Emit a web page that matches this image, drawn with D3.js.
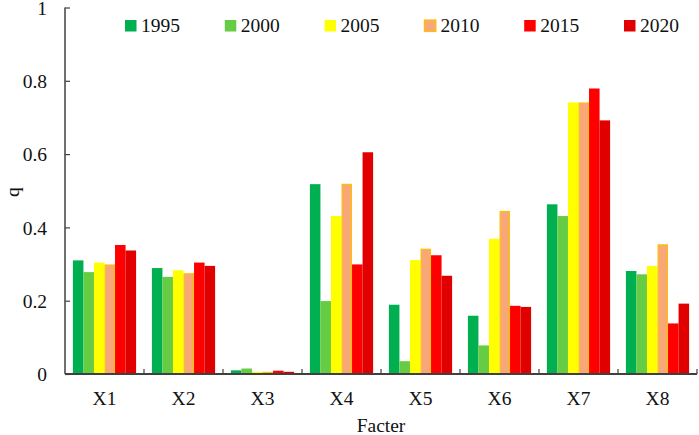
<!DOCTYPE html>
<html><head><meta charset="utf-8">
<script src="https://cdn.jsdelivr.net/npm/d3@7"></script>
<style>body{margin:0;background:#fff}svg{display:block}</style>
</head><body>
<script>
const categories = ["X1","X2","X3","X4","X5","X6","X7","X8"];
const years = ["1995","2000","2005","2010","2015","2020"];
const v1995 = [0.310,0.289,0.010,0.518,0.189,0.159,0.463,0.281];
const v2000 = [0.278,0.265,0.015,0.199,0.035,0.078,0.431,0.272];
const v2005 = [0.304,0.283,0.006,0.431,0.311,0.369,0.741,0.295];
const v2010 = [0.299,0.275,0.006,0.519,0.342,0.445,0.741,0.354];
const v2015 = [0.352,0.304,0.009,0.299,0.324,0.186,0.779,0.138];
const v2020 = [0.337,0.295,0.006,0.605,0.268,0.183,0.692,0.192];
const yTicks = [0,0.2,0.4,0.6,0.8,1];
const seriesValues = [v1995,v2000,v2005,v2010,v2015,v2020];
const fills = ["#00b050","#66cc44","#ffff00","#f8a878","#ff0000","#e00000"];
const strokes = [null,null,null,"#ffc000",null,null];
const FONT = "'Liberation Serif'";

const W=699,H=435;
const svg=d3.select("body").append("svg").attr("width",W).attr("height",H);
const x=d3.scaleBand().domain(categories).range([65,697]).paddingInner(0.2).paddingOuter(0.1);
const x1=d3.scaleBand().domain(years).range([0,x.bandwidth()]);
const y=d3.scaleLinear().domain([0,1]).range([374,7.5]);

years.forEach((yr,si)=>{
  svg.append("g").selectAll("rect").data(seriesValues[si]).join("rect")
    .attr("x",(d,i)=>x(categories[i])+x1(yr)+(strokes[si]?0.6:0))
    .attr("width",x1.bandwidth()-(strokes[si]?1.2:0))
    .attr("y",d=>y(d)+(strokes[si]?0.6:0))
    .attr("height",d=>Math.max(0,y(0)-y(d)-(strokes[si]?0.6:0)))
    .attr("fill",fills[si])
    .attr("stroke",strokes[si]||"none")
    .attr("stroke-width",strokes[si]?1.2:0);
});

const ya=svg.append("g").attr("transform","translate(65,0)")
  .call(d3.axisRight(y).tickValues(yTicks).tickSize(5).tickFormat(d3.format("~g")));
ya.attr("font-family",null);
ya.select(".domain").attr("stroke","#404040").attr("stroke-width",1.5).attr("d","M0,"+y(0)+"V"+y(1));
ya.selectAll(".tick line").attr("stroke","#404040").attr("stroke-width",1.2);
ya.selectAll(".tick text").attr("x",-18).attr("text-anchor","end").attr("dy","0.34em");

const xa=svg.append("g").attr("transform","translate(0,"+y(0)+")")
  .call(d3.axisBottom(x).tickSize(0).tickPadding(17));
xa.attr("font-family",null);
xa.select(".domain").attr("stroke","#404040").attr("stroke-width",2).attr("d","M65,0H697");
const bounds=categories.map(c=>x(c)+x.bandwidth()+x.step()*x.paddingInner()/2);
svg.append("g").selectAll("line").data(bounds).join("line")
  .attr("x1",d=>d).attr("x2",d=>d).attr("y1",y(0)).attr("y2",y(0)-5)
  .attr("stroke","#404040").attr("stroke-width",1.2);

svg.append("text").attr("x",381).attr("y",432).attr("text-anchor","middle").text("Facter");
svg.append("text").attr("transform","translate(19,192) rotate(-90)").attr("text-anchor","middle").text("q");

const lg=svg.append("g").selectAll("g").data(years).join("g")
  .attr("transform",(d,i)=>"translate("+(125+i*99.8)+",20)");
lg.append("rect").attr("width",11.5).attr("height",11.5)
  .attr("fill",(d,i)=>fills[i]).attr("stroke",(d,i)=>strokes[i]||"none").attr("stroke-width",1.2);
lg.append("text").attr("x",16).attr("y",12).text(d=>d);

svg.selectAll("text").style("font-family",FONT).style("font-size","19.5px").attr("fill","#111");
</script>
</body></html>
